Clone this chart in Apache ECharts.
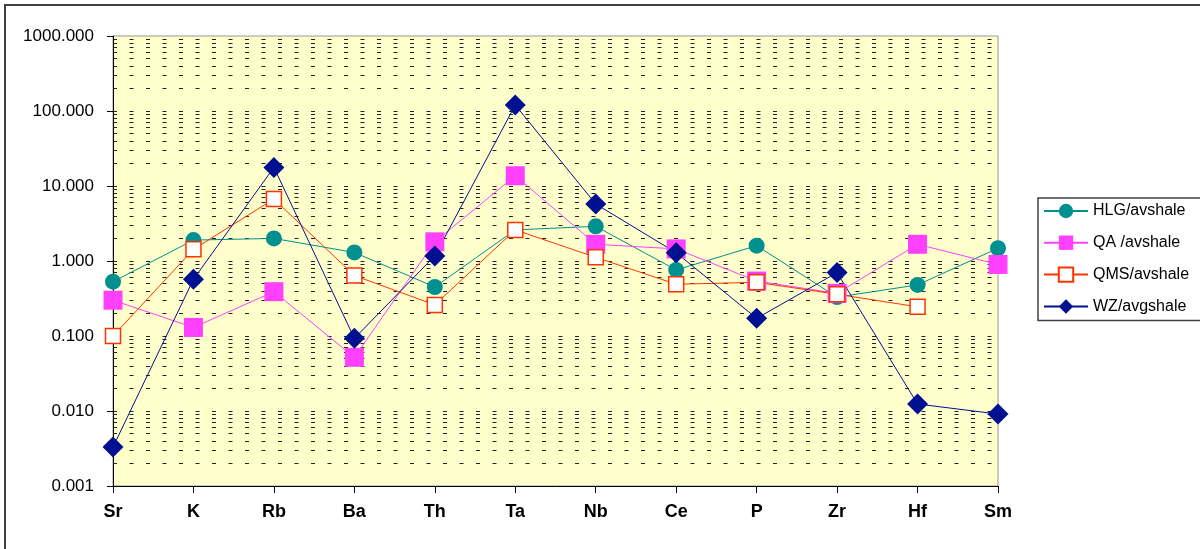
<!DOCTYPE html>
<html>
<head>
<meta charset="utf-8">
<script src="https://cdn.jsdelivr.net/npm/echarts@6/dist/echarts.min.js"></script>
<style>
  html, body { margin: 0; padding: 0; background: #fff; }
  #main { width: 1200px; height: 549px; }
</style>
</head>
<body>
<div id="main"></div>
<script>
// elements along the x axis
var elements = ['Sr', 'K', 'Rb', 'Ba', 'Th', 'Ta', 'Nb', 'Ce', 'P', 'Zr', 'Hf', 'Sm'];

// normalised to average shale
var hlg = [0.53, 1.9, 2.0, 1.3, 0.45, 2.6, 2.9, 0.76, 1.6, 0.33, 0.48, 1.48];
var qa  = [0.30, 0.13, 0.39, 0.052, 1.8, 13.7, 1.67, 1.45, 0.54, 0.37, 1.67, 0.90];
var qms = [0.10, 1.43, 6.7, 0.64, 0.26, 2.6, 1.12, 0.49, 0.52, 0.36, 0.245, null];
var wz  = [0.0033, 0.57, 17.7, 0.093, 1.17, 120, 5.75, 1.29, 0.172, 0.70, 0.0124, 0.0091];

var seriesNames = ['HLG/avshale', 'QA /avshale', 'QMS/avshale', 'WZ/avgshale'];

// log axis: decades and the dashed gridlines between them
var decades = [0.001, 0.01, 0.1, 1, 10, 100];
var steps = [1, 2, 3, 4, 5, 6, 7, 8, 9];

var gridLines = [];
decades.forEach(function (d) {
  steps.forEach(function (s) {
    var v = d * s;
    if (v > 0.001) gridLines.push({ yAxis: v });
  });
});

var font = 'Arial, "Liberation Sans", sans-serif';

var chart = echarts.init(document.getElementById('main'));

var option = {
  animation: false,
  backgroundColor: '#fff',
  graphic: [{
    type: 'rect',
    shape: { x: 5, y: 5, width: 1210, height: 560 },
    style: { fill: 'none', stroke: '#404040', lineWidth: 2 },
    silent: true
  }],
  grid: {
    left: 113,
    right: 202,
    top: 36,
    bottom: 63,
    show: true,
    backgroundColor: '#FFFFCC',
    borderColor: '#999',
    borderWidth: 1
  },
  legend: {
    data: seriesNames,
    orient: 'vertical',
    left: 1038,
    top: 198,
    itemWidth: 44,
    itemHeight: 18,
    itemGap: 15.7,
    padding: [5, 12, 6, 5],
    borderColor: '#404040',
    borderWidth: 1.5,
    textStyle: { fontFamily: font, fontSize: 16, color: '#000' }
  },
  xAxis: {
    type: 'category',
    data: elements,
    boundaryGap: false,
    axisLine: { lineStyle: { color: '#000', width: 1 } },
    axisTick: { alignWithLabel: true, length: 7, lineStyle: { color: '#000' } },
    axisLabel: { fontFamily: font, fontSize: 18, fontWeight: 'bold', color: '#000', margin: 17 },
    splitLine: { show: false }
  },
  yAxis: {
    type: 'log',
    logBase: 10,
    min: 0.001,
    max: 1000,
    splitNumber: 6,
    axisLine: { show: true, lineStyle: { color: '#000', width: 1 } },
    axisTick: { show: true, length: 6, lineStyle: { color: '#000' } },
    axisLabel: {
      fontFamily: font, fontSize: 17, color: '#000', margin: 19,
      formatter: function (v) { return Number(v).toFixed(3); }
    },
    splitLine: { show: false }
  },
  series: [
    {
      name: 'grid',
      type: 'line',
      data: [],
      silent: true,
      z: 1,
      markLine: {
        silent: true,
        z: 1,
        precision: 6,
        symbol: 'none',
        label: { show: false },
        lineStyle: { color: '#222', width: 1, type: [4, 12.5] },
        data: gridLines
      }
    },
    {
      name: seriesNames[0],
      type: 'line',
      data: hlg,
      symbol: 'circle',
      symbolSize: 16,
      itemStyle: { color: '#009090' },
      lineStyle: { color: '#009090', width: 1 }
    },
    {
      name: seriesNames[1],
      type: 'line',
      data: qa,
      symbol: 'rect',
      symbolSize: 19,
      itemStyle: { color: '#FF40FF' },
      lineStyle: { color: '#FF40FF', width: 1 }
    },
    {
      name: seriesNames[2],
      type: 'line',
      data: qms,
      symbol: 'rect',
      symbolSize: 15,
      showAllSymbol: true,
      itemStyle: { color: '#fff', borderColor: '#FF3300', borderWidth: 1.5 },
      lineStyle: { color: '#FF3300', width: 1 }
    },
    {
      name: seriesNames[3],
      type: 'line',
      data: wz,
      symbol: 'diamond',
      symbolSize: 21,
      itemStyle: { color: '#001090' },
      lineStyle: { color: '#001090', width: 1 }
    }
  ]
};

chart.setOption(option);
window.addEventListener('resize', chart.resize);
</script>
</body>
</html>
